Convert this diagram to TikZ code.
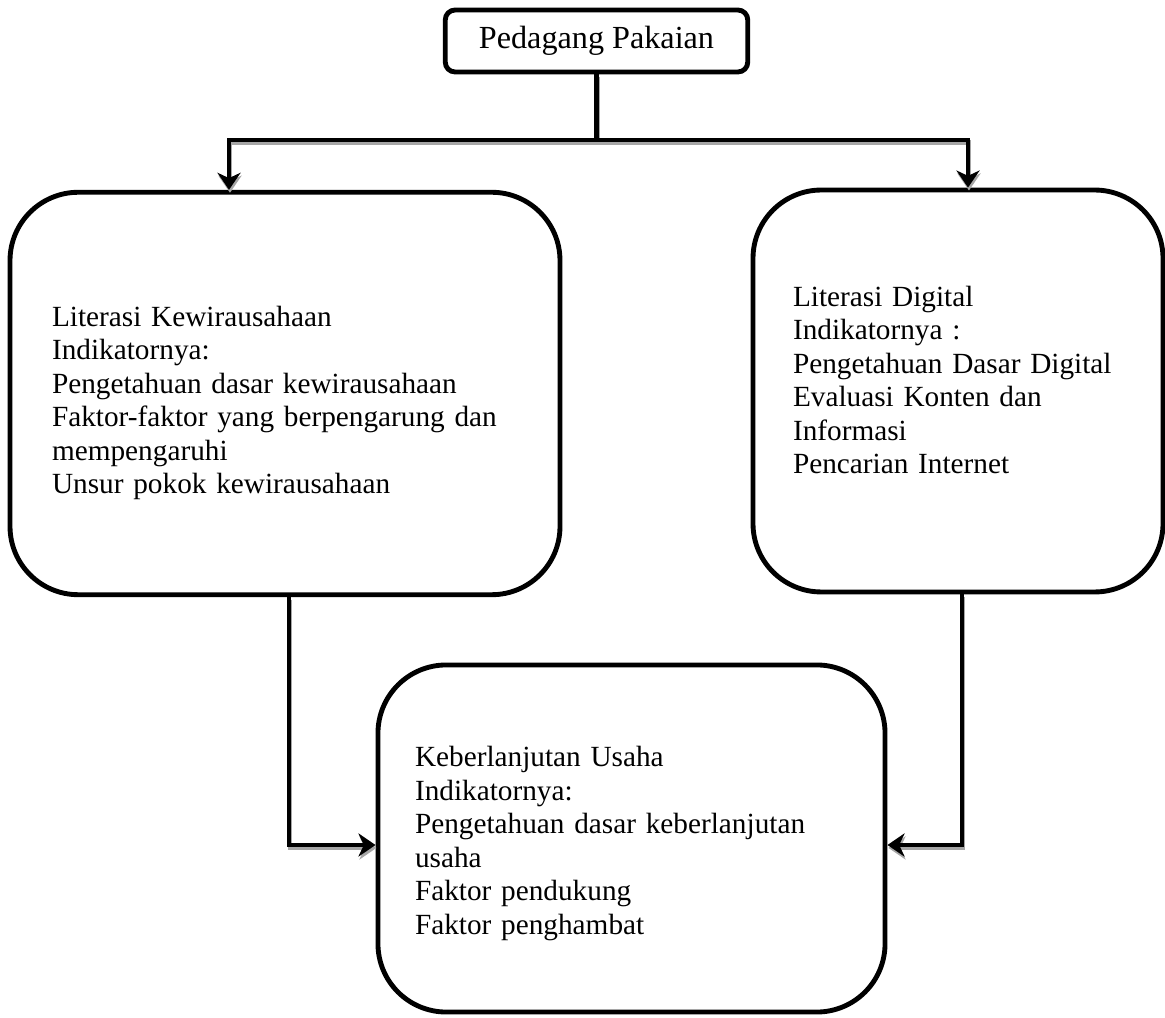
\documentclass[tikz,border=0pt]{standalone}
\usepackage{fontspec}
\setmainfont{Liberation Serif}
\usetikzlibrary{arrows.meta,
	positioning,
	calc,
	shapes}

\begin{document}
\begin{tikzpicture}[x=0.41pt,y=-0.41pt,
	kotak/.style={draw, line width=2pt, rounded corners=28pt},
	isi/.style={align=left, inner sep=0pt, font=\fontsize{12}{13.75}\selectfont},
	judul/.style={draw, line width=2pt, rounded corners=4pt, inner sep=0pt,
		minimum width=124pt, minimum height=25.4pt,
		font=\fontsize{13.2}{15}\selectfont},
	garis/.style={line width=2pt,
		preaction={draw=black!35, line width=2pt, transform canvas={xshift=0.4pt,yshift=-1.2pt}}},
	panah/.style={garis, -{Stealth[length=7pt,width=9.5pt,inset=2.2pt]}}]
\useasboundingbox (0,0) rectangle (1165,1018);

% kotak-kotak
\node[judul] (pedagang) at (596.5,41) {Pedagang Pakaian};
\node[kotak, minimum width=225.5pt, minimum height=165pt] (literasiK) at (285,393.5) {};
\node[kotak, minimum width=168.1pt, minimum height=164.8pt] (literasiD) at (958,391) {};
\node[kotak, minimum width=207.9pt, minimum height=142.3pt] (usaha) at (631.5,838.5) {};

% isi kotak
\node[isi, text width=191pt] (isiK) at (285,403) {%
	Literasi Kewirausahaan\\
	Indikatornya:\\
	Pengetahuan dasar kewirausahaan\\
	Faktor-faktor yang berpengarung dan\\
	mempengaruhi\\
	Unsur pokok kewirausahaan};
\node[isi, text width=135.3pt] (isiD) at (958,380) {%
	Literasi Digital\\
	Indikatornya :\\
	Pengetahuan Dasar Digital\\
	Evaluasi Konten dan\\
	Informasi\\
	Pencarian Internet};
\node[isi, text width=177.5pt] (isiU) at (631.5,843.5) {%
	Keberlanjutan Usaha\\
	Indikatornya:\\
	Pengetahuan dasar keberlanjutan\\
	usaha\\
	Faktor pendukung\\
	Faktor penghambat};

% garis penghubung
\coordinate (cabangK) at (229,140);
\coordinate (cabangD) at (968,140);
\coordinate (belokK) at (289,845);
\coordinate (belokD) at (962,845);

\draw[panah] (pedagang.south) |- (cabangK) -- (cabangK |- literasiK.north);
\draw[panah] (pedagang.south) |- (cabangD) -- (cabangD |- literasiD.north);
\draw[panah] (belokK |- literasiK.south) -- (belokK) -- (belokK -| usaha.west);
\draw[panah] (belokD |- literasiD.south) -- (belokD) -- (belokD -| usaha.east);
\end{tikzpicture}
\end{document}
